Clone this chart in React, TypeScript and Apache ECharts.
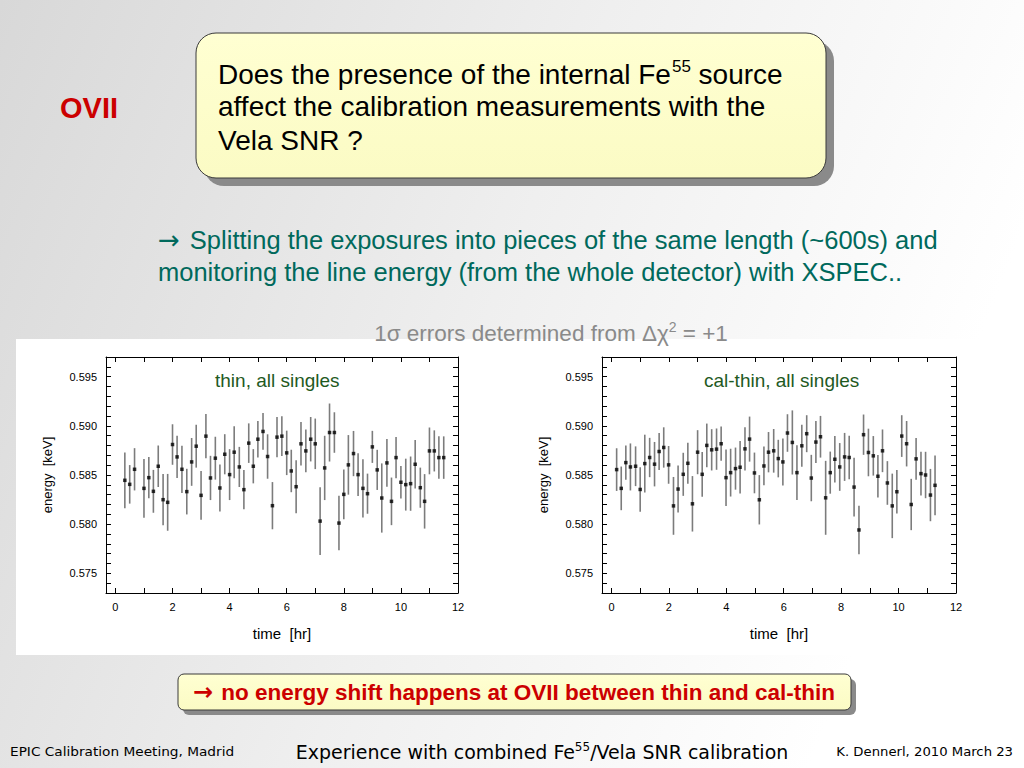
import React, { useEffect, useRef } from "react";
import * as echarts from "echarts";

// ---------- data: "thin, all singles" ----------
const thinTime = [0.33, 0.5, 0.67, 1.0, 1.17, 1.33, 1.5, 1.67, 1.83, 2.0, 2.16, 2.33, 2.5, 2.67, 2.83, 3.0, 3.17, 3.33, 3.5, 3.66, 3.83, 4.0, 4.16, 4.34, 4.5, 4.67, 4.83, 4.99, 5.17, 5.33, 5.5, 5.66, 5.83, 6.0,
  6.16, 6.33, 6.5, 6.67, 6.84, 7.0, 7.17, 7.33, 7.5, 7.67, 7.83, 8.0, 8.16, 8.34, 8.5, 8.67, 8.83, 9.0, 9.17, 9.33, 9.51, 9.67, 9.83, 10.0, 10.17, 10.34, 10.5, 10.68, 10.83, 11.0, 11.17, 11.33, 11.5];
const thinEnergy = [0.58446, 0.58405, 0.58558, 0.58364, 0.58473, 0.58334, 0.58589, 0.58249, 0.58222, 0.5881, 0.58684, 0.58558, 0.58331, 0.58633, 0.58793, 0.58293, 0.58895, 0.5847, 0.58671, 0.58368, 0.58711, 0.58504, 0.58732, 0.58582, 0.58351, 0.58824, 0.58589, 0.58864, 0.58943, 0.58688, 0.58188, 0.58885, 0.58895, 0.58725,
  0.58541, 0.58381, 0.58817, 0.58745, 0.58864, 0.58817, 0.58031, 0.58572, 0.58932, 0.58932, 0.58011, 0.58303, 0.58603, 0.58718, 0.58504, 0.58364, 0.5831, 0.58786, 0.58552, 0.58266, 0.58623, 0.58232, 0.58677, 0.58426, 0.58402, 0.58412, 0.58609, 0.58371, 0.58232, 0.58745, 0.58745, 0.58677, 0.58677];
const thinError = [0.00284, 0.00196, 0.00215, 0.00298, 0.00209, 0.00218, 0.00211, 0.0026, 0.00289, 0.00206, 0.00214, 0.0024, 0.00232, 0.00243, 0.00218, 0.00248, 0.00225, 0.00225, 0.00218, 0.00238, 0.00204, 0.00259, 0.00264, 0.00204, 0.00199, 0.00201, 0.00174, 0.00186, 0.00187, 0.00226, 0.0024, 0.00204, 0.00203, 0.00226,
  0.00216, 0.00269, 0.00221, 0.00218, 0.00226, 0.00257, 0.00344, 0.00327, 0.00295, 0.00206, 0.00277, 0.00254, 0.00303, 0.0023, 0.00218, 0.00296, 0.00204, 0.00163, 0.00204, 0.00352, 0.00243, 0.00242, 0.00209, 0.00165, 0.00264, 0.00276, 0.00247, 0.00204, 0.00277, 0.00238, 0.00209, 0.00216, 0.00216];

// ---------- data: "cal-thin, all singles" ----------
const calTime = [0.18, 0.34, 0.5, 0.66, 0.84, 1.0, 1.16, 1.33, 1.5, 1.66, 1.82, 1.99, 2.16, 2.32, 2.5, 2.66, 2.82, 3.0, 3.16, 3.32, 3.49, 3.66, 3.82, 3.99, 4.15, 4.32, 4.48, 4.65, 4.81, 4.98, 5.15, 5.31, 5.47, 5.65, 5.81,
  5.97, 6.13, 6.3, 6.46, 6.63, 6.8, 6.96, 7.12, 7.28, 7.46, 7.62, 7.78, 7.95, 8.12, 8.28, 8.45, 8.62, 8.78, 8.95, 9.12, 9.28, 9.44, 9.61, 9.78, 9.94, 10.11, 10.28, 10.44, 10.61, 10.78, 10.94, 11.11, 11.27];
const calEnergy = [0.58555, 0.58364, 0.58626, 0.58582, 0.58589, 0.58353, 0.58616, 0.58678, 0.5861, 0.58739, 0.5878, 0.58603, 0.58186, 0.58357, 0.58507, 0.58619, 0.58207, 0.58732, 0.58507, 0.58801, 0.58756, 0.58763, 0.58818, 0.58473, 0.58524, 0.58565, 0.58579, 0.58766, 0.58865, 0.58521, 0.58248, 0.58592, 0.58732, 0.58746, 0.58667,
  0.58633, 0.58927, 0.58831, 0.58524, 0.58797, 0.5892, 0.58469, 0.58835, 0.58889, 0.58268, 0.58524, 0.5866, 0.58582, 0.58684, 0.58678, 0.58377, 0.57941, 0.5891, 0.58729, 0.58695, 0.58487, 0.58746, 0.58419, 0.58186, 0.5833, 0.58896, 0.58818, 0.582, 0.58664, 0.58514, 0.585, 0.58296, 0.58395];
const calError = [0.00217, 0.00222, 0.00174, 0.00239, 0.00202, 0.00227, 0.00294, 0.002, 0.00226, 0.00188, 0.00205, 0.00192, 0.00294, 0.00239, 0.00219, 0.00209, 0.00282, 0.00224, 0.00227, 0.00222, 0.0021, 0.0021, 0.00174, 0.00287, 0.00243, 0.00214, 0.00268, 0.00219, 0.00229, 0.00207, 0.00251, 0.00197, 0.00205, 0.00222, 0.00191,
  0.00239, 0.00191, 0.00326, 0.00278, 0.00214, 0.00188, 0.00236, 0.00214, 0.00212, 0.00376, 0.00214, 0.00236, 0.00243, 0.00244, 0.00222, 0.00299, 0.00246, 0.00205, 0.00242, 0.00201, 0.00217, 0.00217, 0.00222, 0.00328, 0.00222, 0.00212, 0.00231, 0.00261, 0.00213, 0.00222, 0.00236, 0.00266, 0.00304];

// ---------- axis ticks ----------
const xTickLabels = [0, 2, 4, 6, 8, 10, 12];
const xMinorTicks = [0, 1, 2, 3, 4, 5, 6, 7, 8, 9, 10, 11, 12];
const yTickLabels = [0.575, 0.58, 0.585, 0.59, 0.595];
const yMinorTicks = [573, 574, 575, 576, 577, 578, 579, 580, 581, 582, 583, 584, 585, 586, 587, 588, 589, 590, 591, 592, 593, 594, 595, 596, 597].map((v) => v / 1000);

const X_MIN = -0.33;
const X_MAX = 12;
const Y_MIN = 0.573;
const Y_MAX = 0.597;

const SANS = '"Liberation Sans", Arial, Helvetica, sans-serif';
const FOOT = '"DejaVu Sans Condensed", "DejaVu Sans", sans-serif';
const ARROW = '"DejaVu Sans", sans-serif';
const NB = "\u00a0";

function xAxes(gridIndex: number) {
  const base = {
    gridIndex,
    type: "value",
    min: X_MIN,
    max: X_MAX,
    splitLine: { show: false },
    axisLine: { show: true, onZero: false, lineStyle: { color: "#000", width: 1 } },
    axisTick: { show: true, inside: true, length: 5, customValues: xMinorTicks, lineStyle: { color: "#000" } },
  };
  return [
    {
      ...base,
      position: "bottom",
      axisLabel: { show: true, customValues: xTickLabels, color: "#000", fontSize: 11, fontFamily: SANS, margin: 8 },
      name: "time" + NB + NB + "[hr]",
      nameLocation: "middle",
      nameGap: 33,
      nameTextStyle: { color: "#000", fontSize: 15, fontFamily: SANS },
    },
    { ...base, position: "top", axisLabel: { show: false } },
  ];
}

function yAxes(gridIndex: number) {
  const base = {
    gridIndex,
    type: "value",
    min: Y_MIN,
    max: Y_MAX,
    splitLine: { show: false },
    axisLine: { show: true, onZero: false, lineStyle: { color: "#000", width: 1 } },
    axisTick: { show: true, inside: true, length: 5, customValues: yMinorTicks, lineStyle: { color: "#000" } },
  };
  return [
    {
      ...base,
      position: "left",
      axisLabel: {
        show: true,
        customValues: yTickLabels,
        color: "#000",
        fontSize: 11,
        fontFamily: SANS,
        margin: 9,
        formatter: (v: number) => v.toFixed(3),
      },
      name: "energy" + NB + NB + "[keV]",
      nameLocation: "middle",
      nameGap: 52,
      nameTextStyle: { color: "#000", fontSize: 13, fontFamily: SANS },
    },
    { ...base, position: "right", axisLabel: { show: false } },
  ];
}

function errorSeries(axisIndex: number, time: number[], energy: number[], err: number[]) {
  return {
    type: "custom",
    xAxisIndex: axisIndex,
    yAxisIndex: axisIndex,
    data: time.map((t, i) => [t, energy[i] - err[i], energy[i] + err[i]]),
    encode: { x: 0, y: [1, 2] },
    renderItem: (_params: any, api: any) => {
      const p1 = api.coord([api.value(0), api.value(1)]);
      const p2 = api.coord([api.value(0), api.value(2)]);
      return {
        type: "line",
        shape: { x1: p1[0], y1: p1[1], x2: p2[0], y2: p2[1] },
        style: { stroke: "#7c7c7c", lineWidth: 1.6 },
      };
    },
    z: 2,
  };
}

function pointSeries(axisIndex: number, time: number[], energy: number[]) {
  return {
    type: "scatter",
    xAxisIndex: axisIndex,
    yAxisIndex: axisIndex,
    data: time.map((t, i) => [t, energy[i]]),
    symbol: "rect",
    symbolSize: 3.5,
    itemStyle: { color: "#000" },
    z: 3,
  };
}

function boxWithShadow(x: number, y: number, w: number, h: number, r: number, off: number) {
  return [
    { type: "rect", z: -8, shape: { x: x + off, y: y + off, width: w, height: h, r }, style: { fill: "#8a8a8a" } },
    {
      type: "rect",
      z: -7,
      shape: { x, y, width: w, height: h, r },
      style: {
        fill: new echarts.graphic.LinearGradient(0, 0, 0, 1, [
          { offset: 0, color: "#ffffd2" },
          { offset: 1, color: "#fbfbc4" },
        ]),
        stroke: "#3a3a3a",
        lineWidth: 1,
      },
    },
  ];
}

function txt(x: number, y: number, text: string, style: any, sx = 1, align = "left") {
  return {
    type: "text",
    z: 5,
    x,
    y,
    scaleX: sx,
    style: { text, align, verticalAlign: "middle", fontFamily: SANS, ...style },
  };
}

export default function App() {
  const ref = useRef<HTMLDivElement>(null);

  useEffect(() => {
    document.body.style.margin = "0";
    if (!ref.current) return;
    const chart = echarts.init(ref.current, undefined, { renderer: "svg" });

    const qRich = {
      n: { fontSize: 28, fontFamily: SANS, fill: "#000", lineHeight: 34, verticalAlign: "bottom" },
      s: { fontSize: 17, fontFamily: SANS, fill: "#000", lineHeight: 34, verticalAlign: "top", padding: [4, 0, 0, 1] },
    };
    const fRich = {
      n: { fontSize: 19, fontFamily: FOOT, fill: "#000", lineHeight: 24, verticalAlign: "bottom" },
      s: { fontSize: 12, fontFamily: FOOT, fill: "#000", lineHeight: 24, verticalAlign: "top", padding: [3, 0, 0, 0] },
    };
    const gRich = {
      a: { fontSize: 26, fontFamily: ARROW, fill: "#00695c", lineHeight: 30, verticalAlign: "middle", padding: [0, 3, 0, 0] },
      n: { fontSize: 25.5, fontFamily: SANS, fill: "#00695c", lineHeight: 30, verticalAlign: "middle" },
    };
    const rRich = {
      a: { fontSize: 24, fontFamily: ARROW, fontWeight: "bold", fill: "#cc0000", lineHeight: 28, verticalAlign: "middle", padding: [0, 2, 0, 0] },
      n: { fontSize: 22.5, fontFamily: SANS, fontWeight: "bold", fill: "#cc0000", lineHeight: 28, verticalAlign: "middle" },
    };

    const option: any = {
      animation: false,
      backgroundColor: new echarts.graphic.LinearGradient(0, 0, 1, 0.3, [
        { offset: 0, color: "#d8d8d8" },
        { offset: 0.55, color: "#efefef" },
        { offset: 1, color: "#ffffff" },
      ]),
      grid: [
        { left: 106, top: 357, width: 352, height: 236, outerBoundsMode: "none", containLabel: false },
        { left: 602, top: 357, width: 354, height: 236, outerBoundsMode: "none", containLabel: false },
      ],
      xAxis: [...xAxes(0), ...xAxes(1)],
      yAxis: [...yAxes(0), ...yAxes(1)],
      series: [
        errorSeries(0, thinTime, thinEnergy, thinError),
        pointSeries(0, thinTime, thinEnergy),
        errorSeries(2, calTime, calEnergy, calError),
        pointSeries(2, calTime, calEnergy),
      ],
      graphic: {
        elements: [
          // white panel behind the plots
          { type: "rect", z: -10, shape: { x: 16, y: 339, width: 992, height: 316 }, style: { fill: "#ffffff" } },
          // OVII label
          txt(60, 108, "OVII", { fontSize: 29, fontWeight: "bold", fill: "#cc0000" }),
          // question box
          ...boxWithShadow(196, 33, 630, 145, 20, 8),
          {
            type: "text",
            z: 5,
            x: 218,
            y: 71,
            style: { text: "{n|Does the presence of the internal Fe}{s|55}{n| source}", rich: qRich, align: "left", verticalAlign: "middle" },
          },
          txt(218, 106, "affect the calibration measurements with the", { fontSize: 28, fill: "#000" }),
          txt(218, 140, "Vela SNR ?", { fontSize: 28, fill: "#000" }),
          // green description
          {
            type: "text",
            z: 5,
            x: 158,
            y: 240,
            style: { text: "{a|\u2192}{n| Splitting the exposures into pieces of the same length (~600s) and}", rich: gRich, align: "left", verticalAlign: "middle" },
          },
          txt(158, 272, "monitoring the line energy (from the whole detector) with XSPEC..", { fontSize: 25.5, fill: "#00695c" }),
          // gray note
          {
            type: "text",
            z: 5,
            x: 551,
            y: 331,
            style: {
              text: "{n|1\u03c3 errors determined from \u0394\u03c7}{s|2}{n| = +1}",
              rich: {
                n: { fontSize: 22.5, fontFamily: SANS, fill: "#8a8a8a", lineHeight: 28, verticalAlign: "bottom" },
                s: { fontSize: 14, fontFamily: SANS, fill: "#8a8a8a", lineHeight: 28, verticalAlign: "top", padding: [3, 0, 0, 0] },
              },
              align: "center",
              verticalAlign: "middle",
            },
          },
          // panel titles
          txt(215, 380, "thin, all singles", { fontSize: 19, fill: "#1f5a1f" }),
          txt(704, 380, "cal-thin, all singles", { fontSize: 19, fill: "#1f5a1f" }),
          // conclusion box
          ...boxWithShadow(178, 674, 673, 36, 6, 5),
          {
            type: "text",
            z: 5,
            x: 514,
            y: 692,
            style: { text: "{a|\u2192}{n| no energy shift happens at OVII between thin and cal-thin}", rich: rRich, align: "center", verticalAlign: "middle" },
          },
          // footer
          txt(10, 751, "EPIC Calibration Meeting, Madrid", { fontSize: 13, fill: "#000", fontFamily: FOOT }, 1.17),
          {
            type: "text",
            z: 5,
            x: 542,
            y: 750,
            scaleX: 1.11,
            style: { text: "{n|Experience with combined Fe}{s|55}{n|/Vela SNR calibration}", rich: fRich, align: "center", verticalAlign: "middle" },
          },
          txt(1013, 751, "K. Dennerl, 2010 March 23", { fontSize: 13, fill: "#000", fontFamily: FOOT }, 1.13, "right"),
        ],
      },
    };

    chart.setOption(option);
    return () => chart.dispose();
  }, []);

  return <div ref={ref} style={{ position: "absolute", left: 0, top: 0, width: 1024, height: 768 }} />;
}
